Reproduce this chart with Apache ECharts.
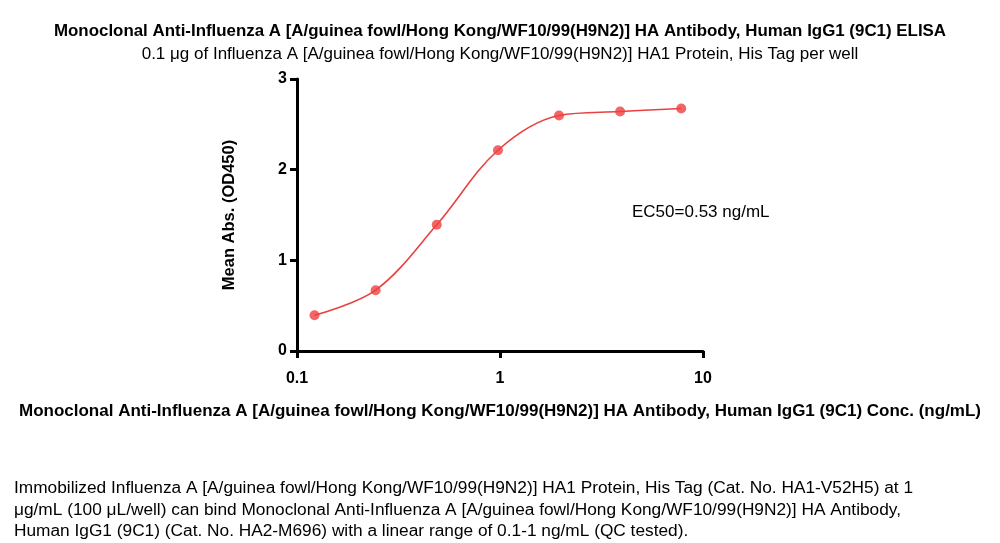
<!DOCTYPE html>
<html>
<head>
<meta charset="utf-8">
<script src="https://cdn.jsdelivr.net/npm/echarts@6/dist/echarts.min.js"></script>
<style>
html,body{margin:0;padding:0;background:#fff;}
#chart{width:1000px;height:543px;}
</style>
</head>
<body>
<div id="chart"></div>
<script>
const concentrations = [0.122, 0.244, 0.488, 0.977, 1.953, 3.906, 7.8125];
const meanAbs = [0.394, 0.671, 1.392, 2.214, 2.597, 2.641, 2.674];
const yTicks = [0, 1, 2, 3];
const xTicks = [0.1, 1, 10];

const titleText = 'Monoclonal Anti-Influenza A [A/guinea fowl/Hong Kong/WF10/99(H9N2)] HA Antibody, Human IgG1 (9C1) ELISA';
const subtitleText = '0.1 \u03bcg of Influenza A [A/guinea fowl/Hong Kong/WF10/99(H9N2)] HA1 Protein, His Tag per well';
const xAxisName = 'Monoclonal Anti-Influenza A [A/guinea fowl/Hong Kong/WF10/99(H9N2)] HA Antibody, Human IgG1 (9C1) Conc. (ng/mL)';
const yAxisName = 'Mean Abs. (OD450)';
const ec50Text = 'EC50=0.53 ng/mL';
const captionLines = [
  'Immobilized Influenza A [A/guinea fowl/Hong Kong/WF10/99(H9N2)] HA1 Protein, His Tag (Cat. No. HA1-V52H5) at 1',
  '\u03bcg/mL (100 \u03bcL/well) can bind Monoclonal Anti-Influenza A [A/guinea fowl/Hong Kong/WF10/99(H9N2)] HA Antibody,',
  'Human IgG1 (9C1) (Cat. No. HA2-M696) with a linear range of 0.1-1 ng/mL (QC tested).'
];

const FONT = '"Liberation Sans", sans-serif';
const points = concentrations.map((c, i) => [c, meanAbs[i]]);

const chart = echarts.init(document.getElementById('chart'), null, {renderer: 'canvas'});
chart.setOption({
  backgroundColor: '#fff',
  animation: false,
  grid: {left: 297, right: 297, top: 79, bottom: 192, containLabel: false},
  xAxis: {
    type: 'log', logBase: 10, min: 0.1, max: 10,
    name: xAxisName, nameLocation: 'middle', nameGap: 52,
    nameTextStyle: {fontFamily: FONT, fontWeight: 'bold', fontSize: 17, color: '#000'},
    axisLine: {lineStyle: {color: '#000', width: 3}},
    axisTick: {show: true, length: 7, lineStyle: {color: '#000', width: 3}},
    minorTick: {show: false},
    splitLine: {show: false},
    axisLabel: {fontFamily: FONT, fontWeight: 'bold', fontSize: 16, color: '#000', margin: 20,
      formatter: v => String(xTicks.find(t => Math.abs(t - v) < 1e-9) ?? v)}
  },
  yAxis: {
    type: 'value', min: 0, max: 3, interval: 1,
    name: yAxisName, nameLocation: 'middle', nameGap: 59, nameRotate: 90,
    nameTextStyle: {fontFamily: FONT, fontWeight: 'bold', fontSize: 16.5, color: '#000'},
    axisLine: {show: true, lineStyle: {color: '#000', width: 3}},
    axisTick: {show: true, length: 7, lineStyle: {color: '#000', width: 3}},
    splitLine: {show: false},
    axisLabel: {fontFamily: FONT, fontWeight: 'bold', fontSize: 16, color: '#000', margin: 10,
      formatter: v => String(yTicks.find(t => t === v) ?? v)}
  },
  series: [
    {
      type: 'line', data: points, smooth: 0.35,
      symbol: 'none', lineStyle: {color: '#e8413f', width: 1.6}, z: 2
    },
    {
      type: 'scatter', data: points, symbol: 'circle', symbolSize: 10,
      itemStyle: {color: '#ef4040'}, z: 3
    }
  ],
  graphic: [
    {type: 'text', left: 'center', top: 23, style: {text: titleText, font: 'bold 16.9px ' + FONT, fill: '#000'}},
    {type: 'text', left: 'center', top: 46, style: {text: subtitleText, font: '17px ' + FONT, fill: '#000'}},
    {type: 'text', left: 632, top: 204, style: {text: ec50Text, font: '17px ' + FONT, fill: '#000'}},
    ...captionLines.map((t, i) => ({type: 'text', left: 14, top: 480 + i * 21.5,
      style: {text: t, font: '17.3px ' + FONT, fill: '#000'}}))
  ]
});
</script>
</body>
</html>
